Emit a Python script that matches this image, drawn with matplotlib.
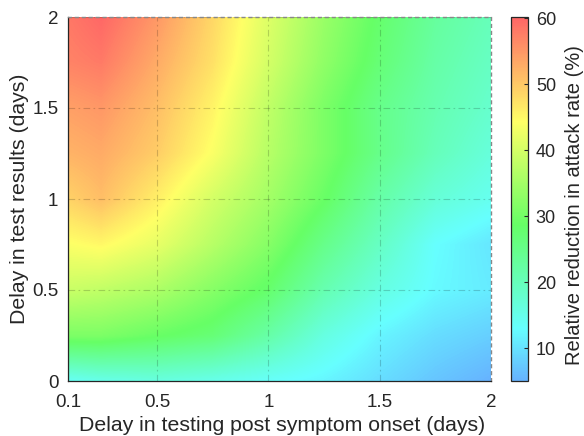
import numpy as np
import matplotlib
matplotlib.use("Agg")
import matplotlib.pyplot as plt
from matplotlib.colors import ListedColormap, hsv_to_rgb

plt.rcParams['font.family'] = ['Liberation Sans', 'DejaVu Sans']

# grid of the surface (days)
onset_delay = [0.0, 0.25, 0.5, 0.75, 1.0, 1.25, 1.5, 1.75, 2.0]
result_delay = [0.0, 0.25, 0.5, 0.75, 1.0, 1.25, 1.5, 1.75, 2.0]

# relative reduction in attack rate (%), one row per result delay
reduction = [
    [13.0, 15.0, 16.0, 15.0, 13.5, 12.0, 9.5, 7.0, 5.0],
    [31.0, 31.0, 29.0, 27.0, 22.0, 16.0, 12.0, 9.5, 8.0],
    [39.5, 38.0, 36.0, 32.0, 28.0, 21.0, 16.0, 12.5, 11.0],
    [43.5, 45.0, 42.0, 37.0, 32.0, 25.0, 19.0, 13.0, 10.5],
    [47.5, 51.0, 46.0, 40.0, 35.0, 29.0, 22.0, 17.0, 14.5],
    [51.5, 53.0, 49.5, 44.0, 37.0, 31.0, 25.0, 20.0, 16.5],
    [53.5, 55.0, 51.0, 45.5, 38.0, 31.0, 25.0, 21.0, 18.0],
    [56.5, 58.0, 53.0, 47.5, 40.0, 33.0, 27.0, 22.0, 19.0],
    [57.0, 60.0, 55.0, 48.5, 41.0, 34.0, 28.0, 23.0, 20.0],
]

x_ticks = [0.1, 0.5, 1, 1.5, 2]
x_labels = ["0.1", "0.5", "1", "1.5", "2"]
y_ticks = [0, 0.5, 1, 1.5, 2]
y_labels = ["0", "0.5", "1", "1.5", "2"]
cbar_ticks = [10, 20, 30, 40, 50, 60]
vmin, vmax = 5, 60.2

# hsv hues (blue -> red) washed out like a 0.6 alpha over white
hue = np.linspace(0.583, 0.0, 256)
rgb = hsv_to_rgb(np.column_stack([hue, np.ones(256), np.ones(256)]))
rgb = 0.6 * rgb + 0.4
cmap = ListedColormap(rgb)

fig = plt.figure(figsize=(5.84, 4.36), dpi=100)
ax = fig.add_axes([68 / 584, 55 / 436, 423 / 584, 364 / 436])
cax = fig.add_axes([511 / 584, 55 / 436, 16.5 / 584, 364 / 436])

dx = onset_delay[1] - onset_delay[0]
dy = result_delay[1] - result_delay[0]
im = ax.imshow(np.array(reduction), origin="lower", cmap=cmap, vmin=vmin, vmax=vmax,
               extent=[onset_delay[0] - dx / 2, onset_delay[-1] + dx / 2,
                       result_delay[0] - dy / 2, result_delay[-1] + dy / 2],
               aspect="auto", interpolation="bilinear", interpolation_stage="data")

ax.set_xlim(0.1, 2)
ax.set_ylim(0, 2)
ax.set_xticks(x_ticks, x_labels)
ax.set_yticks(y_ticks, y_labels)
ax.tick_params(length=0, labelsize=13.5, colors="#262626", pad=9)
ax.tick_params(axis="y", pad=7)
ax.grid(True, color="k", alpha=0.18, linewidth=0.8, linestyle=(0, (6, 3, 1.5, 3)))

for side in ["left", "bottom"]:
    ax.spines[side].set_color("#262626")
    ax.spines[side].set_linewidth(0.9)
for side in ["top", "right"]:
    ax.spines[side].set_color("#888888")
    ax.spines[side].set_linewidth(1.0)
    ax.spines[side].set_linestyle((0, (2, 3)))

ax.set_xlabel("Delay in testing post symptom onset (days)", fontsize=15.3, color="#262626")
ax.set_ylabel("Delay in test results (days)", fontsize=15.3, color="#262626")
ax.xaxis.set_label_coords(0.506, -0.121)
ax.xaxis.label.set_va("center")
ax.yaxis.set_label_coords(-0.1135, 0.5)
ax.yaxis.label.set_va("center")

cb = fig.colorbar(im, cax=cax, ticks=cbar_ticks)
cb.outline.set_edgecolor("#262626")
cb.outline.set_linewidth(0.9)
cax.tick_params(labelsize=13, colors="#262626", length=3, direction="in", pad=6)
fig.text(575 / 584, 1 - 205 / 436, "Relative reduction in attack rate (%)",
         rotation=90, ha="center", va="center", fontsize=14.5, color="#262626")

fig.savefig("out.png", dpi=100)
